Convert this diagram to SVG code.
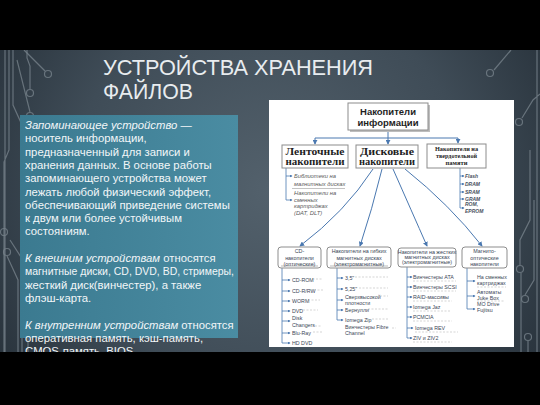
<svg xmlns="http://www.w3.org/2000/svg" width="540" height="405" viewBox="0 0 540 405">
<defs>
<radialGradient id="bg" cx="270" cy="190" r="330" gradientUnits="userSpaceOnUse">
<stop offset="0" stop-color="#53616c"/>
<stop offset="0.6" stop-color="#3f4c57"/>
<stop offset="1" stop-color="#27313a"/>
</radialGradient>
<linearGradient id="teal" x1="0" y1="0" x2="1" y2="0">
<stop offset="0" stop-color="#3b7a90"/>
<stop offset="1" stop-color="#4a8ca2"/>
</linearGradient>
<marker id="ar" viewBox="0 0 6 6" refX="5" refY="3" markerWidth="5" markerHeight="5" orient="auto" markerUnits="userSpaceOnUse">
<path d="M0 0L6 3L0 6z" fill="#4a78b0"/>
</marker>
<marker id="as" viewBox="0 0 6 6" refX="5" refY="3" markerWidth="3" markerHeight="3" orient="auto" markerUnits="userSpaceOnUse">
<path d="M0 0L6 3L0 6z" fill="#4a78b0"/>
</marker>
</defs>
<style>
.lt{font-family:"Liberation Sans",Arial,sans-serif;font-size:11.3px;fill:#f2f6f8}
.i{font-style:italic}
.deco{fill:none;stroke:#75818a;stroke-width:1.2;opacity:0.8}
.ser{font-family:"Liberation Serif","Times New Roman",serif;font-weight:bold;fill:#1e1e1e;text-anchor:middle}
.sb{font-family:"Liberation Sans",Arial,sans-serif;font-weight:bold;fill:#1e1e1e;text-anchor:middle}
.box{fill:#fff;stroke:#8c8c8c;stroke-width:1}
.rbox{fill:#fff;stroke:#8d8d8d;stroke-width:1}
.con{fill:none;stroke:#4a78b0;stroke-width:1}
.lst{fill:none;stroke:#4a78b0;stroke-width:0.8}
.it{font-family:"Liberation Sans",Arial,sans-serif;font-size:5.3px;fill:#3a4656}
.bt{font-family:"Liberation Sans",Arial,sans-serif;font-size:5.4px;fill:#3a4656;text-anchor:middle}
.gi{font-family:"Liberation Sans",Arial,sans-serif;font-size:5.8px;font-style:italic;fill:#5a5a5a}
.si{font-family:"Liberation Sans",Arial,sans-serif;font-size:5px;font-style:italic;font-weight:bold;fill:#4a5060}
.dash{stroke:#b8b8b8;stroke-width:0.6;stroke-dasharray:2 1.5}
</style>
<rect width="540" height="405" fill="url(#bg)"/>
<g id="decoration">
<path class="deco" d="M5 50V360M9 50V150L4 162V360M13 50V105L22 125V360"/>
<path class="deco" d="M24 50L45 71"/>
<circle class="deco" cx="48" cy="74" r="3.5"/>
<path class="deco" d="M27 50V58L30 66V89"/>
<circle class="deco" cx="30" cy="93" r="3.5"/>
<path class="deco" d="M17 60L30 112"/>
<circle class="deco" cx="30" cy="116" r="3.5"/>
<circle class="deco" cx="4" cy="232" r="3.5"/>
<circle class="deco" cx="7" cy="252" r="3.5"/>
<path class="deco" d="M7 256L18 280V360M10 240L28 268V360"/>
<path class="deco" d="M511 50L494 70"/>
<circle class="deco" cx="490" cy="73" r="3.5"/>
<path class="deco" d="M537 50V360M522 118L533 100L540 94"/>
<circle class="deco" cx="519" cy="122" r="3.5"/>
<path class="deco" d="M520 265V240L530 220V150M525 295L534 280V200"/>
<circle class="deco" cx="520" cy="269" r="3.5"/>
<circle class="deco" cx="525" cy="299" r="3.5"/>
<circle class="deco" cx="528" cy="337" r="3.5"/>
<path class="deco" d="M528 341V360M521 273V360"/>
</g>
<g id="title" font-family="'Liberation Sans',Arial,sans-serif" fill="#e8ecef" font-size="21.5">
<text x="103" y="75" textLength="270" lengthAdjust="spacingAndGlyphs">УСТРОЙСТВА ХРАНЕНИЯ</text>
<text x="103" y="98.5" textLength="90" lengthAdjust="spacingAndGlyphs">ФАЙЛОВ</text>
</g>
<g id="textbox">
<rect x="20" y="115" width="218" height="223" fill="url(#teal)"/>
<text class="lt" x="25" y="129"><tspan class="i">Запоминающее устройство</tspan> —</text>
<text class="lt" x="25" y="142.3">носитель информации,</text>
<text class="lt" x="25" y="155.6">предназначенный для записи и</text>
<text class="lt" x="25" y="168.9">хранения данных. В основе работы</text>
<text class="lt" x="25" y="182.2">запоминающего устройства может</text>
<text class="lt" x="25" y="195.5">лежать любой физический эффект,</text>
<text class="lt" x="25" y="208.8">обеспечивающий приведение системы</text>
<text class="lt" x="25" y="222.1">к двум или более устойчивым</text>
<text class="lt" x="25" y="235.4">состояниям.</text>
<text class="lt" x="25" y="262"><tspan class="i">К внешним устройствам</tspan> относятся</text>
<text class="lt" x="25" y="275.3" textLength="209" lengthAdjust="spacingAndGlyphs">магнитные диски, CD, DVD, BD, стримеры,</text>
<text class="lt" x="25" y="288.6">жесткий диск(винчестер), а также</text>
<text class="lt" x="25" y="301.9">флэш-карта.</text>
<text class="lt" x="25" y="328.5"><tspan class="i">К внутренним устройствам</tspan> относятся</text>
<text class="lt" x="25" y="341.8">оперативная память, кэш-память,</text>
<text class="lt" x="25" y="355.1">CMOS-память, BIOS</text>
</g>
<rect id="panel" x="269" y="100" width="245" height="247" fill="#fff"/>
<g id="connectors">
<path class="con" d="M388 130V138M315 138H458"/>
<path class="con" d="M315 138V144" marker-end="url(#ar)"/>
<path class="con" d="M388 138V144" marker-end="url(#ar)"/>
<path class="con" d="M458 138V143" marker-end="url(#ar)"/>
<path class="con" d="M373 169Q345 212 300 246" marker-end="url(#ar)"/>
<path class="con" d="M382 169Q372 210 360 246" marker-end="url(#ar)"/>
<path class="con" d="M393 169Q412 212 427 246" marker-end="url(#ar)"/>
<path class="con" d="M405 169Q450 205 482 246" marker-end="url(#ar)"/>
<path class="lst" d="M286 168V200"/>
<path class="lst" d="M286 176H292" marker-end="url(#as)"/>
<path class="lst" d="M286 200H292" marker-end="url(#as)"/>
<path class="lst" d="M460 168V208"/>
<path class="lst" d="M460 176H464" marker-end="url(#as)"/>
<path class="lst" d="M460 184H464" marker-end="url(#as)"/>
<path class="lst" d="M460 192H464" marker-end="url(#as)"/>
<path class="lst" d="M460 199H464" marker-end="url(#as)"/>
<path class="lst" d="M460 208H464" marker-end="url(#as)"/>
<path class="lst" d="M282 268V343"/>
<path class="lst" d="M282 280H290" marker-end="url(#as)"/>
<path class="lst" d="M282 291H290" marker-end="url(#as)"/>
<path class="lst" d="M282 301H290" marker-end="url(#as)"/>
<path class="lst" d="M282 311H290" marker-end="url(#as)"/>
<path class="lst" d="M282 321H290" marker-end="url(#as)"/>
<path class="lst" d="M282 333H290" marker-end="url(#as)"/>
<path class="lst" d="M282 343H290" marker-end="url(#as)"/>
<path class="lst" d="M337 268V320"/>
<path class="lst" d="M337 278H343" marker-end="url(#as)"/>
<path class="lst" d="M337 289H343" marker-end="url(#as)"/>
<path class="lst" d="M337 300H343" marker-end="url(#as)"/>
<path class="lst" d="M337 310H343" marker-end="url(#as)"/>
<path class="lst" d="M337 320H343" marker-end="url(#as)"/>
<path class="lst" d="M407 267V338"/>
<path class="lst" d="M407 277H412" marker-end="url(#as)"/>
<path class="lst" d="M407 287H412" marker-end="url(#as)"/>
<path class="lst" d="M407 297H412" marker-end="url(#as)"/>
<path class="lst" d="M407 307H412" marker-end="url(#as)"/>
<path class="lst" d="M407 317H412" marker-end="url(#as)"/>
<path class="lst" d="M407 328H413" marker-end="url(#as)"/>
<path class="lst" d="M407 338H412" marker-end="url(#as)"/>
<path class="lst" d="M467 268V309"/>
<path class="lst" d="M467 281H475" marker-end="url(#as)"/>
<path class="lst" d="M467 296H475" marker-end="url(#as)"/>
<path class="lst" d="M467 309H475" marker-end="url(#as)"/>
</g>
<g id="n-root">
<rect x="350" y="105" width="80" height="27" fill="#bdbdbd"/>
<rect class="box" x="348" y="103" width="80" height="27"/>
<text class="sb" x="388" y="114.5" font-size="9.5">Накопители</text>
<text class="sb" x="388" y="125.5" font-size="9.5">информации</text>
</g>
<g id="n-tape">
<rect class="box" x="282" y="145" width="66" height="23"/>
<text class="ser" x="315" y="155" font-size="10" textLength="59" lengthAdjust="spacingAndGlyphs">Ленточные</text>
<text class="ser" x="315" y="165" font-size="10" textLength="59" lengthAdjust="spacingAndGlyphs">накопители</text>
</g>
<g id="n-tape-items">
<text class="gi" x="294" y="178">Библиотеки на</text>
<text class="gi" x="294" y="186">магнитных дисках</text>
<line x1="292" y1="188.5" x2="345" y2="188.5" stroke="#9a9a9a" stroke-width="0.6"/>
<text class="gi" x="294" y="195">Накопители на</text>
<text class="gi" x="294" y="201.5">сменных</text>
<text class="gi" x="294" y="208">картриджах</text>
<text class="gi" x="294" y="215">(DAT, DLT)</text>
</g>
<g id="n-disk">
<rect class="box" x="356" y="145" width="62" height="23"/>
<text class="ser" x="387" y="155" font-size="10" textLength="54" lengthAdjust="spacingAndGlyphs">Дисковые</text>
<text class="ser" x="387" y="165" font-size="10" textLength="56" lengthAdjust="spacingAndGlyphs">накопители</text>
</g>
<g id="n-ssd">
<rect class="box" x="427" y="144" width="59" height="24"/>
<text class="ser" x="456.5" y="151" font-size="6.5" textLength="43" lengthAdjust="spacingAndGlyphs">Накопители на</text>
<text class="ser" x="456.5" y="158" font-size="6.5" textLength="41" lengthAdjust="spacingAndGlyphs">твердотельной</text>
<text class="ser" x="456.5" y="165" font-size="6.5">памяти</text>
</g>
<g id="n-ssd-items">
<text class="si" x="465" y="178">Flash</text>
<text class="si" x="465" y="186">DRAM</text>
<text class="si" x="465" y="194">SRAM</text>
<text class="si" x="465" y="201">GRAM</text>
<text class="si" x="465" y="206">ROM,</text>
<text class="si" x="465" y="213">EPROM</text>
</g>
<g id="n-cd">
<rect class="rbox" x="278" y="247" width="43" height="21" rx="3"/>
<line x1="281" y1="266" x2="318" y2="266" stroke="#8d8d8d" stroke-width="0.6"/>
<text class="bt" x="299.5" y="253">CD-</text>
<text class="bt" x="299.5" y="259.5">накопители</text>
<text class="bt" x="299.5" y="265.5">(оптические)</text>
</g>
<g id="n-cd-items">
<text class="it" x="292" y="282">CD-ROM</text>
<text class="it" x="292" y="293">CD-R/RW</text>
<text class="it" x="292" y="303">WORM</text>
<text class="it" x="292" y="313">DVD</text>
<text class="it" x="292" y="320">Disk</text>
<text class="it" x="292" y="327">Changers</text>
<text class="it" x="292" y="335">Blu-Ray</text>
<text class="it" x="292" y="345">HD DVD</text>
<path class="dash" d="M309 279H322M314 290H324M308 300H320M303 310H318M315 326H322M313 332H322"/>
</g>
<g id="n-floppy">
<rect class="rbox" x="327" y="247" width="64" height="21" rx="3"/>
<line x1="330" y1="266" x2="388" y2="266" stroke="#8d8d8d" stroke-width="0.6"/>
<text class="bt" x="359" y="253">Накопители на гибких</text>
<text class="bt" x="359" y="259.5">магнитных дисках</text>
<text class="bt" x="359" y="265.5">(электромагнитные)</text>
</g>
<g id="n-floppy-items">
<text class="it" x="345" y="280">3,5"</text>
<text class="it" x="345" y="291">5,25"</text>
<text class="it" x="345" y="299">Сверхвысокой</text>
<text class="it" x="345" y="305">плотности</text>
<text class="it" x="345" y="312">Бернулли</text>
<text class="it" x="345" y="322">Iomega Zip</text>
<text class="it" x="345" y="329">Винчестеры Fibre</text>
<text class="it" x="345" y="335">Channel</text>
<path class="dash" d="M355 277H388M359 288H388M380 296H388M368 309H388M372 319H388M392 328H396"/>
</g>
<g id="n-hdd">
<rect class="rbox" x="398" y="248" width="58" height="19" rx="3"/>
<text class="bt" x="427" y="254" font-size="4.4">Накопители на жестких</text>
<text class="bt" x="427" y="259" font-size="4.4">магнитных дисках</text>
<text class="bt" x="427" y="264" font-size="4.4">(электромагнитные)</text>
</g>
<g id="n-hdd-items">
<text class="it" x="413" y="279">Винчестеры ATA</text>
<text class="it" x="413" y="289">Винчестеры SCSI</text>
<text class="it" x="413" y="299">RAID-массивы</text>
<text class="it" x="413" y="309">Iomega Jaz</text>
<text class="it" x="413" y="319">PCMCIA</text>
<text class="it" x="415" y="330">Iomega REV</text>
<text class="it" x="413" y="340">ZIV и ZIV2</text>
<path class="dash" d="M413 281H456M413 291H456M413 301H452M413 311H450M413 321H452M415 332H458M413 342H452"/>
</g>
<g id="n-mo">
<rect class="rbox" x="462" y="247" width="45" height="21" rx="3"/>
<text class="bt" x="484.5" y="253">Магнито-</text>
<text class="bt" x="484.5" y="259.5">оптические</text>
<text class="bt" x="484.5" y="266">накопители</text>
</g>
<g id="n-mo-items">
<text class="it" x="477" y="279">На сменных</text>
<text class="it" x="477" y="285">картриджах</text>
<text class="it" x="477" y="294">Автоматы</text>
<text class="it" x="477" y="299.5">Juke Box</text>
<text class="it" x="477" y="305.5">MO Drive</text>
<text class="it" x="477" y="311.5">Fujitsu</text>
<path class="dash" d="M477 287H506M477 301H505"/>
</g>
<rect x="0" y="0" width="540" height="50" fill="#000"/>
<rect x="0" y="352" width="540" height="53" fill="#000"/>
</svg>
